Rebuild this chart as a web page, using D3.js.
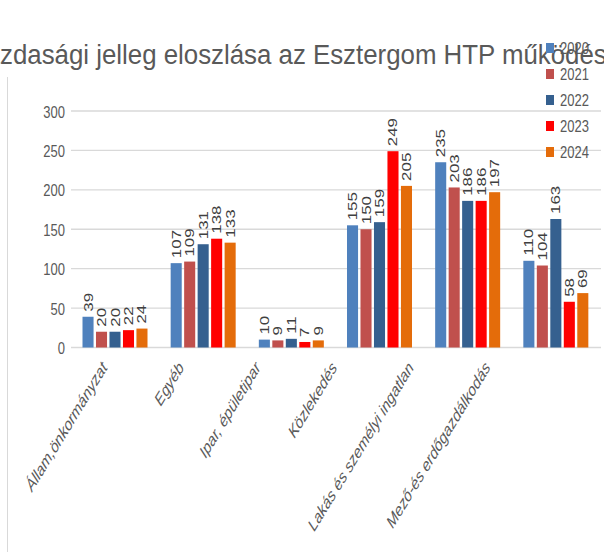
<!DOCTYPE html>
<html>
<head>
<meta charset="utf-8">
<script src="https://cdn.jsdelivr.net/npm/d3@7/dist/d3.min.js"></script>
<style>
  body { margin: 0; background: #fff; }
  text { font-family: "Liberation Sans", Arial, sans-serif; }
</style>
</head>
<body>
<div id="chart"></div>
<script>
var categories = ["Állam,önkormányzat", "Egyéb", "Ipar, épületipar", "Közlekedés",
                  "Lakás és személyi ingatlan", "Mező-és erdőgazdálkodás"];
var years = ["2020", "2021", "2022", "2023", "2024"];
var v2020 = [39, 107, 10, 155, 235, 110];
var v2021 = [20, 109, 9, 150, 203, 104];
var v2022 = [20, 131, 11, 159, 186, 163];
var v2023 = [22, 138, 7, 249, 186, 58];
var v2024 = [24, 133, 9, 205, 197, 69];
var yTicks = [0, 50, 100, 150, 200, 250, 300];
var titleText = "Gazdasági jelleg eloszlása az Esztergom HTP működése";

var colors = ["#4F81BD", "#C0504D", "#35608F", "#FF0000", "#E46C0A"];
var series = [v2020, v2021, v2022, v2023, v2024];

var W = 604, H = 552;
var sy = 1.3; // the picture is stretched vertically

var svg = d3.select("#chart")
  .append("svg")
    .attr("width", W)
    .attr("height", H);

// left border line
svg.append("line")
  .attr("x1", 7.5).attr("x2", 7.5)
  .attr("y1", 77).attr("y2", H)
  .attr("stroke", "#d9d9d9")
  .attr("stroke-width", 1);

var x0 = d3.scaleBand()
  .domain(categories)
  .range([71, 600]);

var x1 = d3.scaleBand()
  .domain(years)
  .range([11.5, 76.5])
  .paddingInner(0.18);

var y = d3.scaleLinear()
  .domain([0, 300])
  .range([347.5, 111]);

// gridlines
svg.append("g")
  .selectAll("line")
  .data(yTicks)
  .enter()
  .append("line")
    .attr("x1", 71)
    .attr("x2", 601)
    .attr("y1", function(d) { return y(d); })
    .attr("y2", function(d) { return y(d); })
    .attr("stroke", "#d9d9d9")
    .attr("stroke-width", 1.4);

// y axis
var yAxis = svg.append("g")
  .attr("transform", "translate(71,0)")
  .call(d3.axisLeft(y).tickValues(yTicks).tickSize(0).tickPadding(6));
yAxis.select(".domain").remove();
yAxis.selectAll("text")
  .attr("fill", "#595959")
  .style("font-size", "13px")
  .attr("dy", "0.36em")
  .attr("transform", "scale(1," + sy + ")");

// bars
var rows = [];
categories.forEach(function(c, i) {
  years.forEach(function(yr, j) {
    rows.push({cat: c, year: yr, value: series[j][i], color: colors[j]});
  });
});

svg.append("g")
  .selectAll("rect")
  .data(rows)
  .enter()
  .append("rect")
    .attr("x", function(d) { return x0(d.cat) + x1(d.year); })
    .attr("y", function(d) { return y(d.value); })
    .attr("width", x1.bandwidth())
    .attr("height", function(d) { return y(0) - y(d.value); })
    .attr("fill", function(d) { return d.color; });

// data labels
svg.append("g")
  .selectAll("g")
  .data(rows)
  .enter()
  .append("g")
    .attr("transform", function(d) {
      return "translate(" + (x0(d.cat) + x1(d.year) + x1.bandwidth() / 2 + 4.5) + "," + (y(d.value) - 5) + ")";
    })
  .append("text")
    .attr("transform", "scale(1," + sy + ") rotate(-90)")
    .attr("fill", "#404040")
    .style("font-size", "13px")
    .text(function(d) { return d.value; });

// category labels
var labelX = d3.scalePoint()
  .domain(categories)
  .range([108, 491]);

svg.append("g")
  .selectAll("g")
  .data(categories)
  .enter()
  .append("g")
    .attr("transform", function(d) { return "translate(" + labelX(d) + ",368)"; })
  .append("text")
    .attr("transform", "scale(1," + sy + ") rotate(-51.6)")
    .attr("text-anchor", "end")
    .attr("fill", "#595959")
    .style("font-size", "13.5px")
    .style("font-style", "italic")
    .text(function(d) { return d; });

// title
var tg = svg.append("g").attr("transform", "translate(0,64)");
var title = tg.append("text")
  .attr("fill", "#595959")
  .style("font-size", "22px")
  .text(titleText);
var node = title.node();
var hidden = node.getSubStringLength(0, 2);
var shown = node.getSubStringLength(2, "zdasági jelleg eloszlása az Esztergom HTP működés".length);
var kx = 607 / shown;
title.attr("x", -hidden)
  .attr("transform", "scale(" + kx + ",1.25)");

// legend
var legend = svg.append("g")
  .selectAll("g")
  .data(years)
  .enter()
  .append("g")
    .attr("transform", function(d, i) { return "translate(546," + (48 + i * 26) + ")"; });

legend.append("rect")
  .attr("x", 0)
  .attr("y", -5)
  .attr("width", 8)
  .attr("height", 10)
  .attr("fill", function(d, i) { return colors[i]; });

legend.append("text")
  .attr("x", 14)
  .attr("dy", "0.36em")
  .attr("transform", "scale(1," + sy + ")")
  .attr("fill", "#595959")
  .style("font-size", "13px")
  .text(function(d) { return d; });
</script>
</body>
</html>
